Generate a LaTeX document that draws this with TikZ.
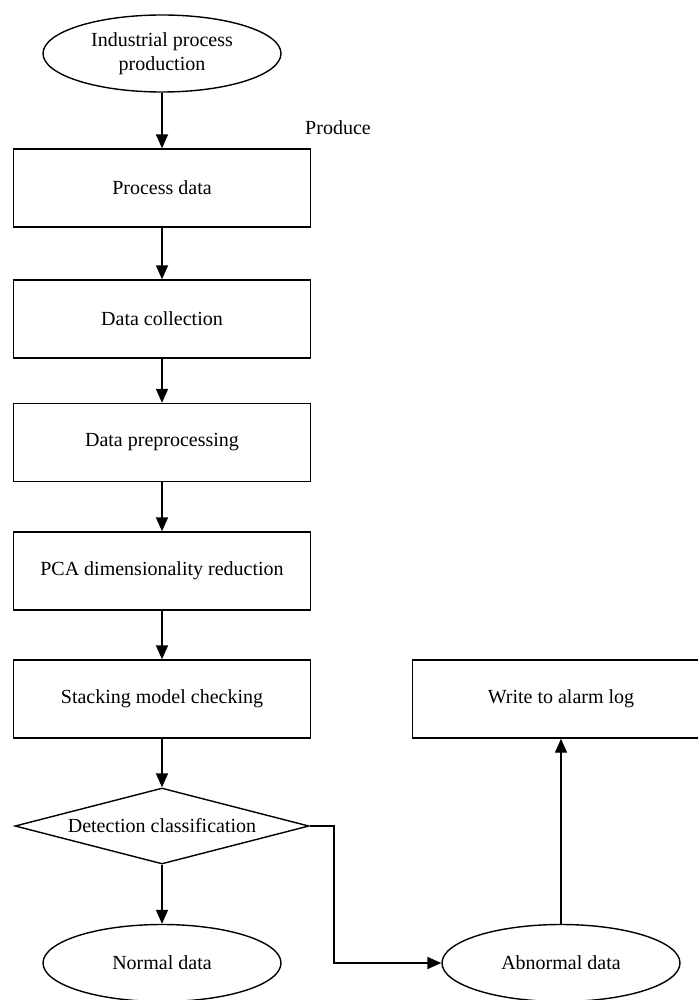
\documentclass[tikz,border=0pt]{standalone}
\usepackage{fontspec}
\setmainfont{Liberation Serif}
\usetikzlibrary{
  positioning, arrows.meta,
  shapes.geometric
}

\begin{document}
\begin{tikzpicture}[x=0.5pt,y=-0.5pt,
    box/.style={draw,line width=0.7pt,minimum width=148.5pt,minimum height=39pt,inner sep=0pt},
    oval/.style={draw,ellipse,line width=0.7pt,minimum width=119pt,minimum height=38.5pt,inner sep=0pt,align=center},
    decide/.style={draw,diamond,aspect=3.9,line width=0.7pt,minimum width=147pt,minimum height=38pt,inner sep=0pt},
    flow/.style={-{Triangle[length=7pt,width=6pt]},line width=0.9pt}]
      \useasboundingbox (0,0) rectangle (697,1000);
      % main column
      \node[oval] (start) at (162,53.5) {Industrial process\\production};
      \node[box] (procdata) at (162,188) {Process data};
      \node[box] (collect) at (162,319) {Data collection};
      \node[box] (prep) at (162,442.5) {Data preprocessing};
      \node[box] (pca) at (162,571) {PCA dimensionality reduction};
      \node[box] (stack) at (162,699) {Stacking model checking};
      \node[decide] (detect) at (162,826) {Detection classification};
      \node[oval] (normal) at (162,963) {Normal data};
      % right side
      \node[oval] (abnormal) at (561,963) {Abnormal data};
      \node[box] (alarm) at (561,699) {Write to alarm log};
      \node[] (produce) at (338,128) {Produce};
      \draw[flow] (start) -- (procdata);
      \draw[flow] (procdata) -- (collect);
      \draw[flow] (collect) -- (prep);
      \draw[flow] (prep) -- (pca);
      \draw[flow] (pca) -- (stack);
      \draw[flow] (stack) -- (detect);
      \draw[flow] (detect) -- (normal);
      \draw[flow] (detect.east) -- ([xshift=12pt]detect.east) |- (abnormal.west);
      \draw[flow,line width=0.6pt] (abnormal) -- (alarm);
    \end{tikzpicture}
\end{document}
